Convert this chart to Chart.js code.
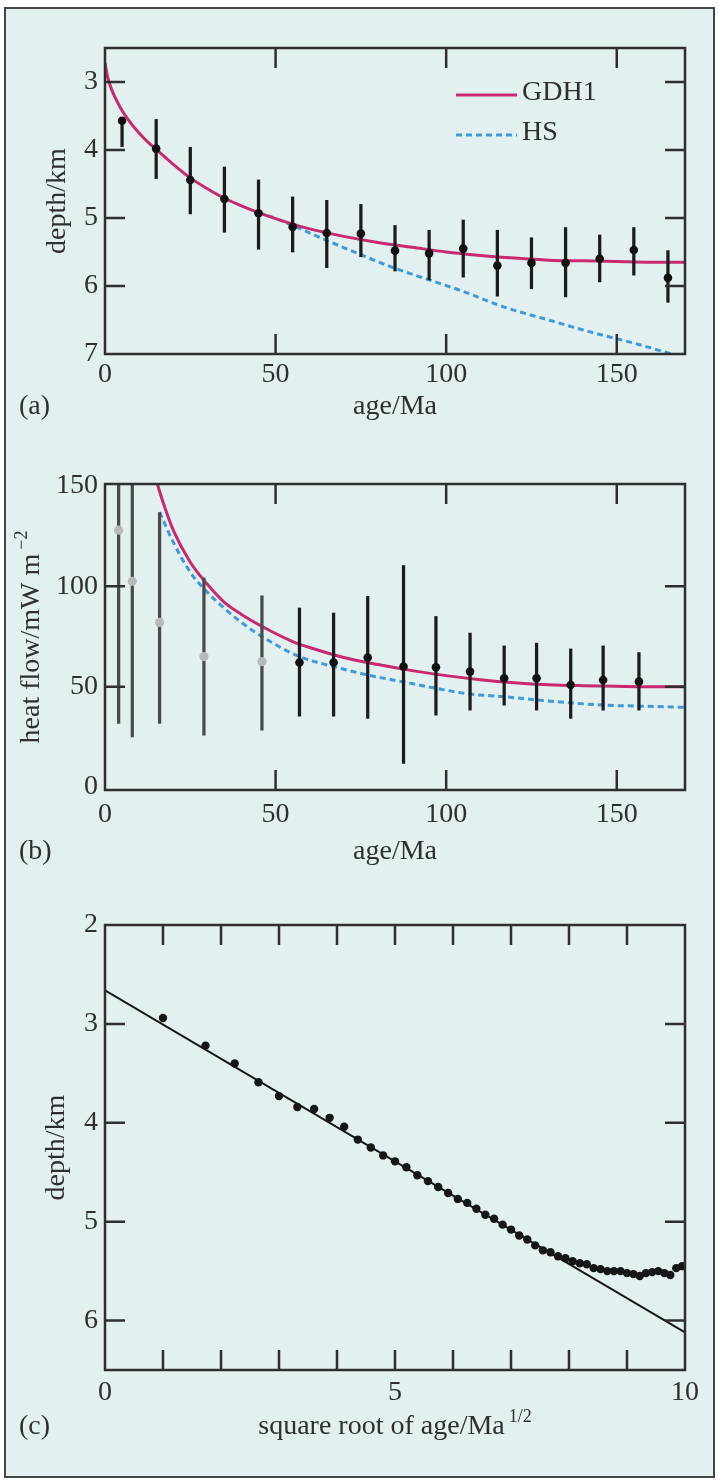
<!DOCTYPE html>
<html>
<head>
<meta charset="utf-8">
<script src="https://cdn.jsdelivr.net/npm/chart.js@4.4.1/dist/chart.umd.min.js"></script>
<style>
  html, body { margin: 0; padding: 0; background: #ffffff; }
  #page { position: relative; width: 718px; height: 1482px; overflow: hidden; background: #ffffff; }
  #frame { position: absolute; left: 4px; top: 7px; width: 707px; height: 1467px;
           border: 2px solid #454545; background: #e2f0f0; }
  canvas { position: absolute; left: 0; }
</style>
</head>
<body>
<div id="page">
  <div id="frame"></div>
  <canvas id="panelA" width="718" height="440" style="top:0px"></canvas>
  <canvas id="panelB" width="718" height="440" style="top:440px"></canvas>
  <canvas id="panelC" width="718" height="602" style="top:880px"></canvas>
</div>
<script>
// ---------- (a) ocean depth against age ----------
const depthAges   = [5, 15, 25, 35, 45, 55, 65, 75, 85, 95, 105, 115, 125, 135, 145, 155, 165];
const depthMean   = [3.57, 3.98, 4.44, 4.72, 4.93, 5.13, 5.22, 5.23, 5.48, 5.52, 5.45, 5.70, 5.66, 5.66, 5.60, 5.47, 5.88];
const depthUpper  = [3.54, 3.55, 3.96, 4.25, 4.44, 4.69, 4.74, 4.80, 5.11, 5.18, 5.03, 5.18, 5.29, 5.14, 5.25, 5.14, 5.48];
const depthLower  = [3.95, 4.42, 4.94, 5.21, 5.46, 5.50, 5.73, 5.57, 5.78, 5.91, 5.87, 6.15, 6.04, 6.16, 5.94, 5.84, 6.24];

const gdh1DepthAges = [0, 0.5, 1, 2, 3, 5, 7.5, 10, 12.5, 15, 20, 25, 30, 35, 40, 45, 50, 55, 60, 70, 80, 90, 100, 110, 120, 130, 140, 150, 160, 170];
const gdh1Depth     = [2.72, 2.86, 2.97, 3.12, 3.23, 3.42, 3.60, 3.75, 3.88, 3.99, 4.21, 4.41, 4.57, 4.71, 4.82, 4.92, 5.01, 5.09, 5.16, 5.27, 5.36, 5.43, 5.50, 5.55, 5.59, 5.62, 5.63, 5.64, 5.65, 5.65];

const hsDepthAges = [45, 48, 55, 65, 75, 85, 95, 105, 117, 130, 144, 155, 166];
const hsDepth     = [4.92, 4.97, 5.11, 5.33, 5.54, 5.74, 5.91, 6.08, 6.31, 6.50, 6.70, 6.84, 7.00];

// ---------- (b) heat flow against age ----------
const flowAgesYoung = [4, 8, 16, 29, 46];
const flowYoung     = [128, 102.5, 82, 65, 62.5];
const flowYoungLow  = [31.7, 25, 31.7, 25.8, 28.3];
const flowYoungHigh = [200, 200, 136.7, 104.2, 95.3];

const flowAgesOld = [57, 67, 77, 87.5, 97, 107, 117, 126.5, 136.5, 146, 156.5];
const flowOld     = [62, 62, 64.5, 60, 59.7, 57.5, 54.2, 54.2, 50.8, 53.3, 52.5];
const flowOldLow  = [35.3, 35.3, 34.2, 11.7, 35.8, 38.3, 40.8, 38.3, 34.2, 38.3, 38.3];
const flowOldHigh = [89.2, 86.7, 95, 110.3, 85, 76.7, 70.3, 71.7, 68.8, 70.3, 67];

const gdh1FlowAges = [15, 17, 20, 25, 30, 35, 40, 45, 50, 55, 60, 70, 80, 90, 100, 110, 120, 130, 140, 150, 160, 170];
const gdh1Flow     = [153, 142, 128, 112, 101, 92, 86, 81, 76.5, 72.5, 69.5, 64.5, 61, 58, 55.5, 53.5, 52, 51, 50.5, 50.2, 50, 50];

const hsFlowAges = [16, 20, 25, 30, 35, 40, 46, 57, 67, 77, 87, 97, 107, 117, 127, 136, 146, 157, 170];
const hsFlow     = [137, 122, 107, 97, 89, 82, 75, 65, 60, 55.8, 52.5, 49.2, 46.3, 45, 43.3, 42, 40.8, 40.3, 39.7];

// ---------- (c) depth against square root of age ----------
const binAges  = [1, 3, 5, 7, 9, 11, 13, 15, 17, 19, 21, 23, 25, 27, 29, 31, 33, 35, 37, 39, 41, 43, 45, 47, 49,
                  51, 53, 55, 57, 59, 61, 63, 65, 67, 69, 71, 73, 75, 77, 79, 81, 83, 85, 87, 89, 91, 93, 95, 97, 99];
const binDepth = [2.94, 3.22, 3.40, 3.59, 3.73, 3.84, 3.86, 3.95, 4.04, 4.17, 4.25, 4.33, 4.39, 4.45, 4.53, 4.59, 4.65, 4.71, 4.77, 4.81, 4.87, 4.93, 4.97, 5.03, 5.08,
                  5.14, 5.18, 5.24, 5.29, 5.31, 5.35, 5.37, 5.40, 5.42, 5.43, 5.47, 5.48, 5.50, 5.50, 5.50, 5.52, 5.53, 5.55, 5.52, 5.51, 5.50, 5.52, 5.54, 5.47, 5.45];
const fitRootAge = [0, 10];
const fitDepth   = [2.66, 6.12];

// ---------- tick labels and tick marks ----------
const ageTickLabels    = [0, 50, 100, 150];
const ageTickMarks     = [50, 100, 150];
const depthTickLabelsA = [3, 4, 5, 6, 7];
const depthTickMarksA  = [3, 4, 5, 6];
const flowTickLabels   = [0, 50, 100, 150];
const flowTickMarks    = [50, 100];
const rootTickLabels   = [0, 5, 10];
const rootTickMarks    = [1, 2, 3, 4, 5, 6, 7, 8, 9];
const depthTickLabelsC = [2, 3, 4, 5, 6];
const depthTickMarksC  = [3, 4, 5, 6];

// ---------- styling ----------
const FONT = "'Liberation Serif', 'Times New Roman', serif";
const INK = '#2f2f2f';
const PINK = '#c9296f';
const BLUE = '#3d9ade';
const PAGE_W = 718;

const pts = (xs, ys) => xs.map((x, i) => ({ x, y: ys[i] }));
const bars = (xs, lo, hi) => xs.map((x, i) => ({ x, y: [lo[i], hi[i]] }));

function drawText(ctx, text, sup, cx, cy, rotate) {
  ctx.save();
  ctx.translate(cx, cy);
  if (rotate) ctx.rotate(-Math.PI / 2);
  ctx.fillStyle = INK;
  ctx.textBaseline = 'middle';
  ctx.textAlign = 'left';
  ctx.font = `28px ${FONT}`;
  const w1 = ctx.measureText(text).width;
  let w2 = 0, gap = 0;
  if (sup) { ctx.font = `18px ${FONT}`; w2 = ctx.measureText(sup).width; gap = 4; }
  const x0 = -(w1 + gap + w2) / 2;
  ctx.font = `28px ${FONT}`;
  ctx.fillText(text, x0, 0);
  if (sup) { ctx.font = `18px ${FONT}`; ctx.fillText(sup, x0 + w1 + gap, -10); }
  ctx.restore();
}

// frame, inward tick marks, axis titles, panel letter and in-plot legend
const panelDecor = {
  id: 'panelDecor',
  afterDatasetsDraw(chart, args, o) {
    const { ctx, chartArea: a, scales: { x, y } } = chart;
    const off = o.top;
    ctx.save();
    ctx.strokeStyle = INK;
    ctx.lineWidth = 2.5;
    ctx.strokeRect(a.left, a.top, a.right - a.left, a.bottom - a.top);
    ctx.beginPath();
    for (const v of o.xMarks) {
      const px = x.getPixelForValue(v);
      ctx.moveTo(px, a.bottom); ctx.lineTo(px, a.bottom - o.len);
      ctx.moveTo(px, a.top); ctx.lineTo(px, a.top + o.len);
    }
    for (const v of o.yMarks) {
      const py = y.getPixelForValue(v);
      ctx.moveTo(a.left, py); ctx.lineTo(a.left + o.len, py);
      ctx.moveTo(a.right, py); ctx.lineTo(a.right - o.len, py);
    }
    ctx.stroke();

    drawText(ctx, o.xTitle.text, o.xTitle.sup, (a.left + a.right) / 2, o.xTitle.y - off, false);
    drawText(ctx, o.yTitle.text, o.yTitle.sup, o.yTitle.x, (a.top + a.bottom) / 2, true);

    ctx.fillStyle = INK;
    ctx.font = `28px ${FONT}`;
    ctx.textAlign = 'left';
    ctx.textBaseline = 'middle';
    ctx.fillText(o.letter.text, o.letter.x, o.letter.y - off);

    if (o.legend) {
      const L = o.legend;
      chart.data.datasets.filter(d => d.legendRow !== undefined).forEach(d => {
        const yy = L.rows[d.legendRow] - off;
        ctx.save();
        ctx.strokeStyle = d.borderColor;
        ctx.lineWidth = d.borderWidth;
        ctx.setLineDash(d.borderDash || []);
        ctx.beginPath();
        ctx.moveTo(L.x1, yy); ctx.lineTo(L.x2, yy);
        ctx.stroke();
        ctx.restore();
        ctx.fillStyle = INK;
        ctx.fillText(d.label, L.x2 + 5, yy - 2);
      });
    }
    ctx.restore();
  }
};

function panel(id, top, height, area, xr, yr, reverseY, xLabels, yLabels, datasets, decor) {
  const tickFont = { family: FONT, size: 28 };
  return new Chart(document.getElementById(id), {
    type: 'scatter',
    data: { datasets },
    options: {
      responsive: false,
      animation: false,
      events: [],
      layout: {
        autoPadding: false,
        padding: { left: 0, top: area.top - top, right: PAGE_W - area.right, bottom: 0 }
      },
      plugins: {
        legend: { display: false },
        tooltip: { enabled: false },
        panelDecor: Object.assign({ top, len: 20 }, decor)
      },
      scales: {
        x: {
          type: 'linear', min: xr[0], max: xr[1], offset: false,
          grid: { display: false, drawTicks: false }, border: { display: false },
          ticks: { font: tickFont, color: INK, padding: decor.xPad, autoSkip: false, maxRotation: 0, minRotation: 0 },
          afterBuildTicks: s => { s.ticks = xLabels.map(v => ({ value: v })); },
          afterFit: s => { s.height = top + height - area.bottom; }
        },
        y: {
          type: 'linear', min: yr[0], max: yr[1], reverse: reverseY,
          grid: { display: false, drawTicks: false }, border: { display: false },
          ticks: { font: tickFont, color: INK, padding: 7, autoSkip: false },
          afterBuildTicks: s => { s.ticks = yLabels.map(v => ({ value: v })); },
          afterFit: s => { s.width = area.left; }
        }
      }
    },
    plugins: [panelDecor]
  });
}

const errBar = (data, color, order) => ({
  type: 'bar', data, backgroundColor: color, borderWidth: 0,
  barThickness: 2.6, grouped: false, order
});
const dots = (data, color, r, order) => ({
  type: 'scatter', data, pointRadius: r, pointBackgroundColor: color,
  pointBorderColor: color, pointBorderWidth: 0, showLine: false, order
});
const curve = (label, data, color, width, dash, order, legendRow) => ({
  type: 'line', label, data, borderColor: color, borderWidth: width, borderDash: dash,
  pointRadius: 0, fill: false, cubicInterpolationMode: 'monotone', order, legendRow
});

// (a)
panel('panelA', 0, 440, { left: 105, right: 685, top: 48, bottom: 354 }, [0, 170], [2.5, 7], true,
  ageTickLabels, depthTickLabelsA,
  [
    curve('HS', pts(hsDepthAges, hsDepth), BLUE, 3, [6, 4], 6, 1),
    curve('GDH1', pts(gdh1DepthAges, gdh1Depth), PINK, 3, [], 5, 0),
    errBar(bars(depthAges, depthUpper, depthLower), '#1c1c1c', 3),
    dots(pts(depthAges, depthMean), '#111111', 4.3, 1)
  ],
  {
    xMarks: ageTickMarks, yMarks: depthTickMarksA, xPad: 4,
    xTitle: { text: 'age/Ma', y: 407 },
    yTitle: { text: 'depth/km', x: 58 },
    letter: { text: '(a)', x: 19, y: 407 },
    legend: { x1: 456, x2: 517, rows: [95, 135] }
  });

// (b)
panel('panelB', 440, 440, { left: 105, right: 685, top: 484, bottom: 790 }, [0, 170], [-1.5, 151], false,
  ageTickLabels, flowTickLabels,
  [
    curve('HS', pts(hsFlowAges, hsFlow), BLUE, 3, [6, 4], 6),
    curve('GDH1', pts(gdh1FlowAges, gdh1Flow), PINK, 3, [], 5),
    errBar(bars(flowAgesYoung, flowYoungLow, flowYoungHigh), '#4a4a4a', 4),
    errBar(bars(flowAgesOld, flowOldLow, flowOldHigh), '#1c1c1c', 3),
    dots(pts(flowAgesYoung, flowYoung), '#b8baba', 4.6, 2),
    dots(pts(flowAgesOld, flowOld), '#111111', 4.3, 1)
  ],
  {
    xMarks: ageTickMarks, yMarks: flowTickMarks, xPad: 8,
    xTitle: { text: 'age/Ma', y: 852 },
    yTitle: { text: 'heat flow/mW m', sup: '\u22122', x: 32 },
    letter: { text: '(b)', x: 19, y: 852 }
  });

// (c)
panel('panelC', 880, 602, { left: 105, right: 685, top: 925, bottom: 1370 }, [0, 10], [2, 6.5], true,
  rootTickLabels, depthTickLabelsC,
  [
    {
      type: 'line', data: pts(fitRootAge, fitDepth), borderColor: '#151515', borderWidth: 2,
      pointRadius: 0, fill: false, order: 3
    },
    dots(binAges.map((t, i) => ({ x: Math.sqrt(t), y: binDepth[i] })), '#161616', 4.2, 1)
  ],
  {
    xMarks: rootTickMarks, yMarks: depthTickMarksC, xPad: 6,
    xTitle: { text: 'square root of age/Ma', sup: '1/2', y: 1427 },
    yTitle: { text: 'depth/km', x: 57 },
    letter: { text: '(c)', x: 19, y: 1427 }
  });
</script>
</body>
</html>
